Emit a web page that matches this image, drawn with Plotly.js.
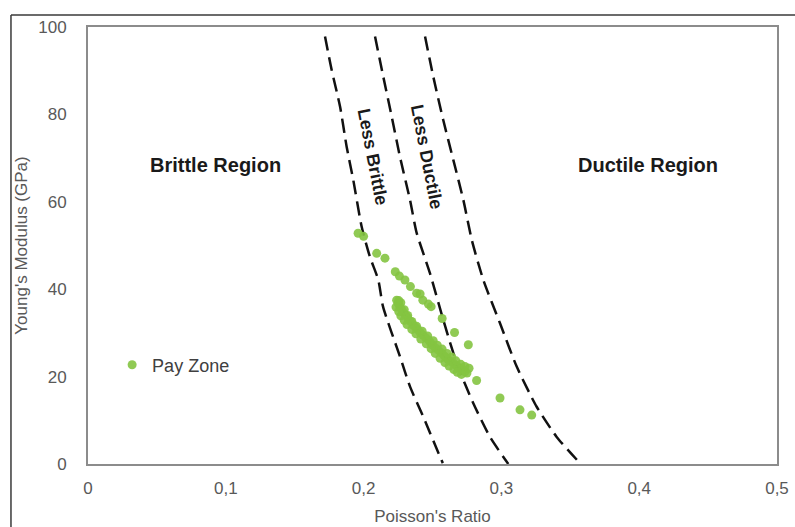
<!DOCTYPE html>
<html>
<head>
<meta charset="utf-8">
<script src="https://cdn.plot.ly/plotly-3.0.1.min.js"></script>
<style>html,body{margin:0;padding:0;background:#fff;}#chart{width:795px;height:527px;}</style>
</head>
<body>
<div id="chart"></div>
<script>
// Pay zone measurements (Poisson's ratio, Young's modulus in GPa)
const payPoisson = [
  0.196, 0.200, 0.2095, 0.2155,
  0.223, 0.226, 0.230, 0.234, 0.2385, 0.241, 0.243, 0.247, 0.249, 0.257, 0.266, 0.276,
  0.224, 0.226, 0.229, 0.232, 0.236, 0.2395, 0.243, 0.247, 0.250, 0.254, 0.258, 0.261, 0.265, 0.2685, 0.272, 0.275,
  0.225, 0.2275, 0.2305, 0.234, 0.2378, 0.241, 0.245, 0.2485, 0.252, 0.256, 0.2595, 0.263, 0.267, 0.270, 0.2735,
  0.227, 0.2295, 0.235, 0.2425, 0.2505, 0.257, 0.264, 0.2705, 0.2765,
  0.2255, 0.232, 0.2385, 0.2465, 0.2535, 0.2605, 0.267, 0.2735,
  0.2235, 0.227, 0.2315, 0.238, 0.2455, 0.252, 0.259, 0.2655, 0.271,
  0.2255, 0.2295, 0.235, 0.2415, 0.249, 0.2555, 0.262, 0.268,
  0.282, 0.299, 0.3135, 0.322
];
const payYoung = [
  52.8, 52.1, 48.2, 47.1,
  44.0, 43.0, 42.1, 40.6, 39.1, 38.9, 37.5, 36.6, 36.0, 33.3, 30.1, 27.3,
  37.5, 36.2, 34.6, 33.4, 31.8, 30.7, 29.5, 28.4, 27.2, 26.1, 24.9, 24.0, 23.1, 22.2, 21.5, 20.8,
  36.8, 35.4, 34.0, 32.6, 31.2, 30.1, 28.9, 27.8, 26.6, 25.5, 24.4, 23.5, 22.6, 21.8, 21.1,
  36.9, 35.3, 32.6, 30.4, 28.2, 26.3, 24.5, 22.8, 21.9,
  37.4, 34.0, 31.5, 29.3, 27.2, 25.3, 23.6, 22.3,
  35.9, 33.9, 31.9, 29.8, 27.5, 25.3, 23.2, 21.6, 20.5,
  34.9, 32.9, 30.8, 28.6, 26.4, 24.2, 22.4, 21.0,
  19.1, 15.1, 12.4, 11.2
];

// Boundary curves
const brittleX = [0.172, 0.1768, 0.1829, 0.1877, 0.1925, 0.1986, 0.2046, 0.2107, 0.2141, 0.2264, 0.2337, 0.2433, 0.2554, 0.2575];
const brittleY = [97.8, 90.2, 81.8, 72.6, 65.0, 54.3, 47.4, 42.1, 36.0, 24.6, 17.7, 10.8, 1.7, 0.2];
const midX = [0.2083, 0.2143, 0.2204, 0.2264, 0.2337, 0.2385, 0.2482, 0.2578, 0.2676, 0.2796, 0.2917, 0.305];
const midY = [97.8, 88.6, 79.5, 70.3, 60.4, 52.9, 43.6, 33.0, 23.0, 13.9, 6.2, 0];
const ductileX = [0.2446, 0.2506, 0.2578, 0.2651, 0.2724, 0.2785, 0.2869, 0.299, 0.3111, 0.3256, 0.3401, 0.357];
const ductileY = [97.8, 88.6, 78.7, 69.6, 60.4, 51.3, 42.1, 32.2, 22.3, 13.1, 6.2, 0.2];

const xTicks = [0, 0.1, 0.2, 0.3, 0.4, 0.5];
const yTicks = [0, 20, 40, 60, 80, 100];

const FONT = 'Liberation Sans, Arial, sans-serif';
const dashLine = {color: '#111111', width: 2.5, dash: '14px,7px', shape: 'spline', smoothing: 0.6};

const traces = [
  {x: brittleX, y: brittleY, type: 'scatter', mode: 'lines', line: dashLine, showlegend: false, hoverinfo: 'skip'},
  {x: midX, y: midY, type: 'scatter', mode: 'lines', line: dashLine, showlegend: false, hoverinfo: 'skip'},
  {x: ductileX, y: ductileY, type: 'scatter', mode: 'lines', line: dashLine, showlegend: false, hoverinfo: 'skip'},
  {x: payPoisson, y: payYoung, type: 'scatter', mode: 'markers', name: 'Pay Zone',
   marker: {color: '#84c441', size: 9, opacity: 0.9}}
];

const layout = {
  width: 795, height: 527,
  margin: {l: 88, r: 18, t: 27, b: 63},
  paper_bgcolor: '#ffffff', plot_bgcolor: '#ffffff',
  separators: ',.',
  font: {family: FONT, color: '#595959', size: 17},
  showlegend: true,
  legend: {x: 0.035, y: 0.2265, xanchor: 'left', yanchor: 'middle', bgcolor: 'rgba(0,0,0,0)',
           font: {family: FONT, size: 18, color: '#404040'}, itemwidth: 30},
  xaxis: {range: [0, 0.5], tickvals: xTicks, showgrid: false, zeroline: false,
          showline: true, mirror: true, linecolor: '#8c8c8c', linewidth: 2, ticks: '',
          ticklabelstandoff: 8, tickfont: {size: 17, color: '#595959'},
          title: {text: "Poisson's Ratio", font: {size: 17, color: '#595959'}, standoff: 13}},
  yaxis: {range: [0, 100], tickvals: yTicks, showgrid: false, zeroline: false,
          showline: true, mirror: true, linecolor: '#8c8c8c', linewidth: 2, ticks: '',
          ticklabelstandoff: 16, tickfont: {size: 17, color: '#595959'},
          title: {text: "Young's Modulus (GPa)", font: {size: 17, color: '#595959'}, standoff: 6}},
  annotations: [
    {x: 0.0922, y: 68.4, xref: 'x', yref: 'y', text: '<b>Brittle Region</b>', showarrow: false,
     font: {family: FONT, size: 20, color: '#1a1a1a'}},
    {x: 0.4064, y: 68.4, xref: 'x', yref: 'y', text: '<b>Ductile Region</b>', showarrow: false,
     font: {family: FONT, size: 20, color: '#1a1a1a'}},
    {x: 0.2068, y: 70.3, xref: 'x', yref: 'y', text: '<b>Less Brittle</b>', showarrow: false, textangle: 79,
     font: {family: FONT, size: 18, color: '#1a1a1a'}},
    {x: 0.2460, y: 70.3, xref: 'x', yref: 'y', text: '<b>Less Ductile</b>', showarrow: false, textangle: 79,
     font: {family: FONT, size: 18, color: '#1a1a1a'}}
  ],
  shapes: [
    {type: 'line', xref: 'paper', yref: 'paper', x0: -0.1118, x1: 1.05, y0: 1.0275, y1: 1.0275,
     line: {color: '#3a3a3a', width: 1.5}},
    {type: 'line', xref: 'paper', yref: 'paper', x0: -0.1118, x1: -0.1118, y0: 1.0275, y1: -0.2,
     line: {color: '#3a3a3a', width: 1.5}}
  ]
};

Plotly.newPlot('chart', traces, layout, {displayModeBar: false, staticPlot: true});
</script>
</body>
</html>
